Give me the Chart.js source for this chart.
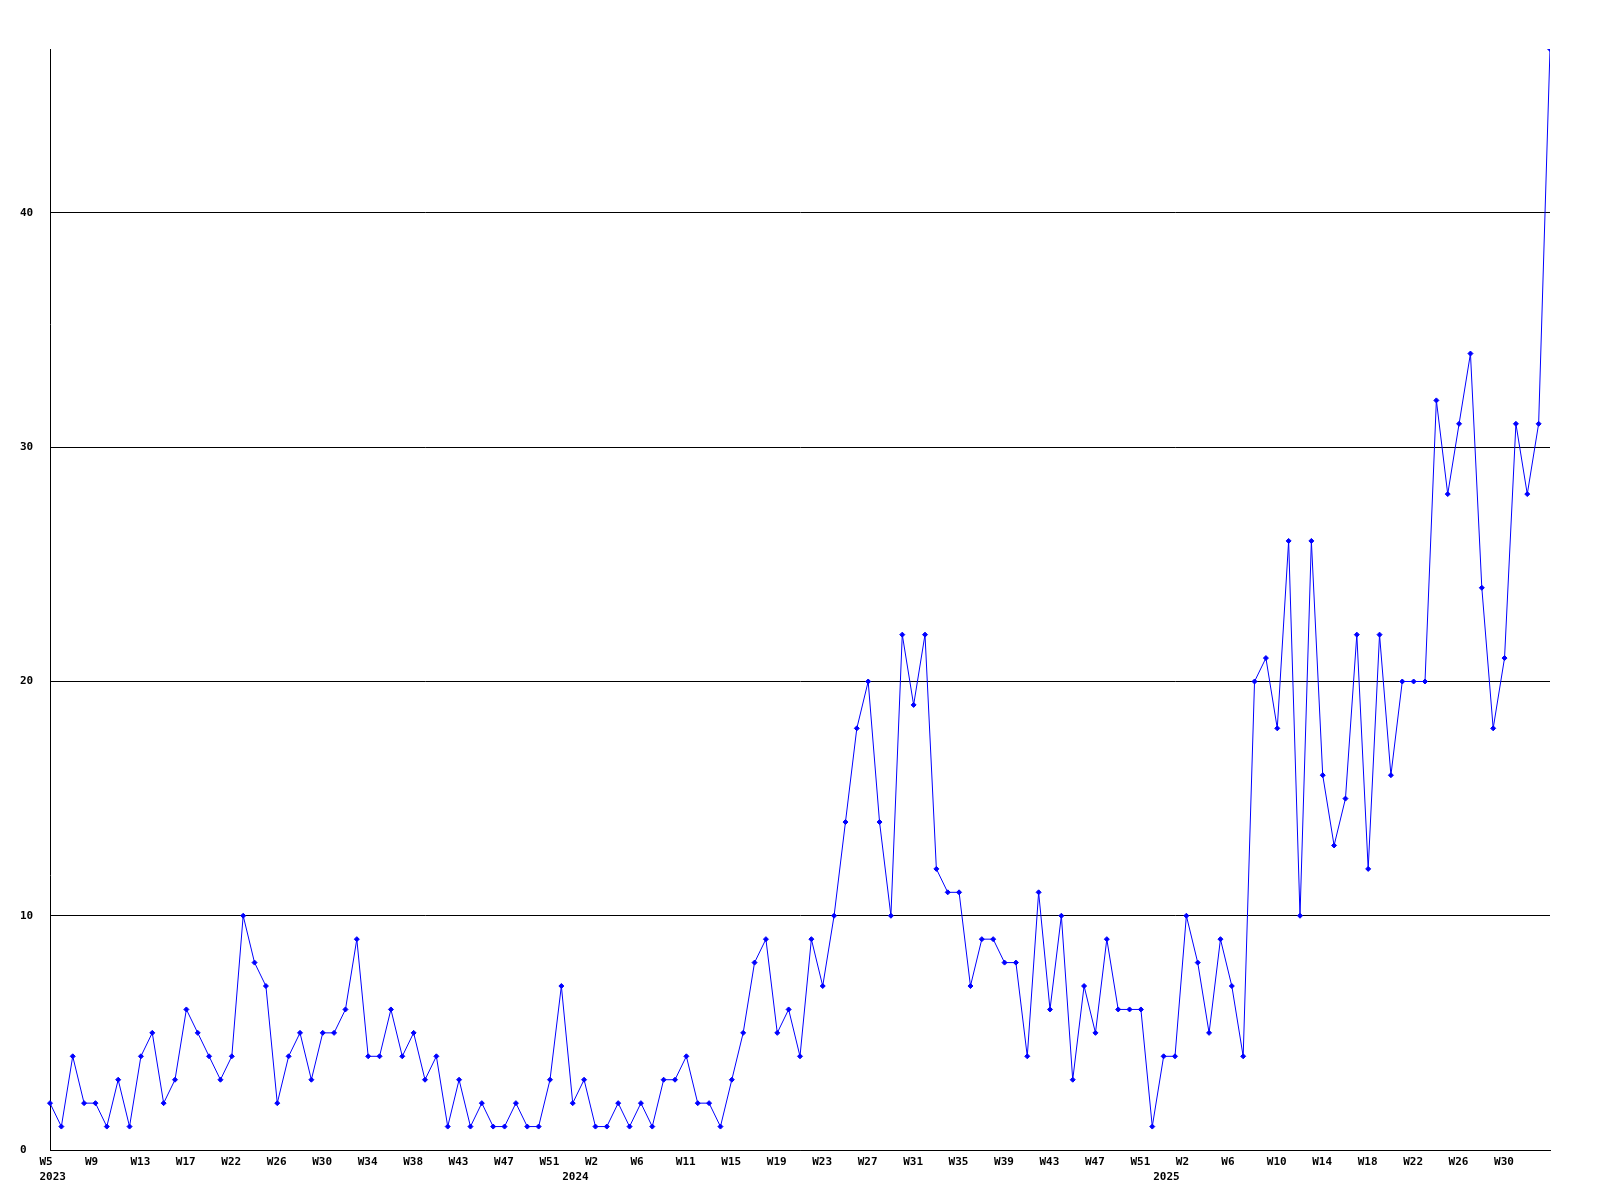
<!DOCTYPE html>
<html>
<head>
<meta charset="utf-8">
<script src="https://cdn.jsdelivr.net/npm/chart.js@4/dist/chart.umd.min.js"></script>
<style>
  html, body { margin: 0; padding: 0; background: #ffffff; }
  #wrap { width: 1600px; height: 1200px; }
</style>
</head>
<body>
<div id="wrap"><canvas id="c" width="1600" height="1200"></canvas></div>
<script>
// Weekly counts, one value per week (2023 W5 ... 2025)
const counts = [
  2,1,4,2,2,1,3,1,4,5,2,3,6,5,4,3,4,10,8,7,2,4,5,3,5,5,6,9,4,4,6,4,5,3,4,1,
  3,1,2,1,1,2,1,1,3,7,2,3,1,1,2,1,2,1,3,3,4,2,2,1,3,5,8,9,5,6,4,9,7,10,
  14,18,20,14,10,22,19,22,12,11,11,7,9,9,8,8,4,11,6,10,3,7,5,9,6,6,6,1,4,4,
  10,8,5,9,7,4,20,21,18,26,10,26,16,13,15,22,12,22,16,20,20,20,32,28,31,34,24,18,21,31,
  28,31,47
];
// Week tick labels, shown on every 4th point
const weekTicks = [
  "W5","W9","W13","W17","W22","W26","W30","W34","W38","W43","W47","W51",
  "W2","W6","W11","W15","W19","W23","W27","W31","W35","W39","W43","W47","W51",
  "W2","W6","W10","W14","W18","W22","W26","W30"
];
const weekTickEvery = 4;
// Year labels and the point index they sit under
const yearTicks = ["2023","2024","2025"];
const yearTickIndex = [0, 46, 98];
// Y axis ticks
const yStep = 10;

const categories = counts.map((v, i) => String(i));
const tickFont = { family: "DejaVu Sans Mono", size: 11, weight: "bold" };

new Chart(document.getElementById('c'), {
  type: 'line',
  data: {
    labels: categories,
    datasets: [{
      data: counts,
      borderColor: '#0000ff',
      backgroundColor: '#0000ff',
      borderWidth: 1,
      pointStyle: 'rectRot',
      pointRadius: 2.5,
      pointBorderWidth: 1,
      pointBorderColor: '#0000ff',
      pointBackgroundColor: '#0000ff',
      tension: 0,
      fill: false,
      clip: { left: 5, right: 0, top: 0, bottom: 5 }
    }]
  },
  options: {
    responsive: false,
    animation: false,
    devicePixelRatio: 1,
    layout: { padding: { left: 20, right: 50, top: 49, bottom: 0 } },
    plugins: { legend: { display: false }, tooltip: { enabled: false } },
    scales: {
      x: {
        type: 'category',
        position: 'bottom',
        weight: 0,
        offset: false,
        grid: { display: false, drawTicks: false },
        border: { display: true, color: '#000000', width: 1 },
        ticks: {
          autoSkip: false,
          maxRotation: 0,
          minRotation: 0,
          align: 'start',
          labelOffset: -10.5,
          padding: 6,
          color: '#000000',
          font: tickFont,
          callback: (v, i) => (i % weekTickEvery === 0 && weekTicks[i / weekTickEvery]) ? weekTicks[i / weekTickEvery] : ''
        },
        afterFit: (s) => { s.height = 20; s.paddingLeft = 0; s.paddingRight = 0; }
      },
      x2: {
        type: 'category',
        position: 'bottom',
        weight: 1,
        offset: false,
        labels: categories,
        grid: { display: false, drawTicks: false },
        border: { display: false },
        ticks: {
          autoSkip: false,
          maxRotation: 0,
          minRotation: 0,
          align: 'start',
          labelOffset: -10.5,
          padding: 1,
          color: '#000000',
          font: tickFont,
          callback: (v, i) => {
            const k = yearTickIndex.indexOf(i);
            return k >= 0 ? yearTicks[k] : '';
          }
        },
        afterFit: (s) => { s.height = 30; s.paddingLeft = 0; s.paddingRight = 0; }
      },
      y: {
        type: 'linear',
        min: 0,
        max: Math.max(...counts),
        grid: { display: true, color: '#000000', lineWidth: 1, drawTicks: false },
        border: { display: true, color: '#000000', width: 1 },
        ticks: {
          stepSize: yStep,
          includeBounds: false,
          crossAlign: 'far',
          padding: 0,
          color: '#000000',
          font: tickFont
        },
        afterFit: (s) => { s.width = 30; s.paddingTop = 0; s.paddingBottom = 0; }
      }
    }
  }
});
</script>
</body>
</html>
